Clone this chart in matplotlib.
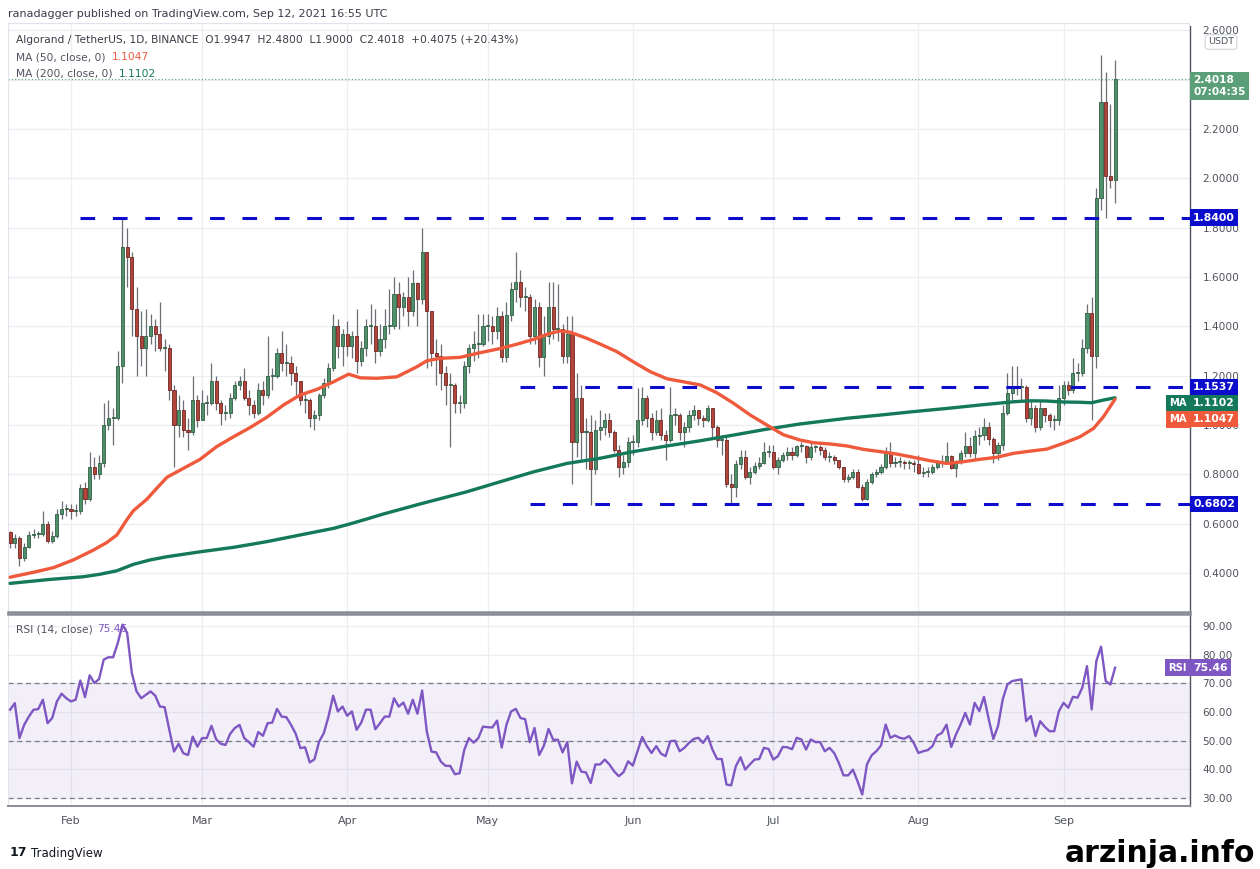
import matplotlib
matplotlib.use('Agg')
import matplotlib.pyplot as plt
import matplotlib.transforms as mtransforms
from matplotlib.patches import Rectangle
from matplotlib.ticker import FuncFormatter, FormatStrFormatter
import numpy as np
import pandas as pd

# ---------------- data (ALGO/USDT, daily) ----------------
start_date = '2021-01-19'
first_open = 0.566

close = [0.52, 0.54, 0.46, 0.505, 0.554, 0.56, 0.56, 0.60, 0.53, 0.55, 0.64, 0.66, 0.66,
         # Feb
         0.65, 0.65, 0.745, 0.70, 0.83, 0.80, 0.845, 1.00, 1.03, 1.03, 1.24, 1.72, 1.68, 1.47,
         1.36, 1.31, 1.36, 1.40, 1.37, 1.31, 1.31, 1.14, 1.00, 1.06, 0.98, 0.97, 1.10, 1.02,
         # Mar
         1.09, 1.09, 1.18, 1.09, 1.05, 1.05, 1.11, 1.16, 1.18, 1.11, 1.08, 1.05, 1.14, 1.12,
         1.20, 1.20, 1.29, 1.25, 1.25, 1.21, 1.18, 1.10, 1.10, 1.03, 1.04, 1.12, 1.17, 1.23,
         1.40, 1.32, 1.37,
         # Apr
         1.32, 1.36, 1.26, 1.31, 1.40, 1.40, 1.30, 1.35, 1.40, 1.40, 1.53, 1.48, 1.52, 1.46,
         1.575, 1.51, 1.70, 1.46, 1.29, 1.28, 1.21, 1.16, 1.16, 1.09, 1.09, 1.24, 1.31, 1.33,
         1.33, 1.40,
         # May
         1.40, 1.38, 1.44, 1.275, 1.445, 1.55, 1.58, 1.52, 1.52, 1.36, 1.48, 1.275, 1.36, 1.48,
         1.39, 1.39, 1.28, 1.37, 0.93, 1.11, 0.97, 0.97, 0.82, 0.98, 0.99, 1.02, 0.97, 0.90,
         0.83, 0.85, 0.93,
         # Jun
         0.93, 1.02, 1.11, 1.03, 0.97, 1.02, 0.96, 0.94, 1.04, 1.04, 0.97, 0.99, 1.04, 1.06,
         1.03, 1.02, 1.07, 0.99, 0.94, 0.94, 0.76, 0.75, 0.84, 0.87, 0.79, 0.81, 0.835, 0.845,
         0.89, 0.89,
         # Jul
         0.83, 0.86, 0.88, 0.89, 0.88, 0.915, 0.915, 0.87, 0.91, 0.91, 0.90, 0.87, 0.87, 0.86,
         0.83, 0.78, 0.79, 0.81, 0.75, 0.70, 0.77, 0.80, 0.81, 0.83, 0.89, 0.845, 0.85, 0.85,
         0.845, 0.845, 0.84,
         # Aug
         0.805, 0.81, 0.81, 0.83, 0.85, 0.85, 0.875, 0.825, 0.85, 0.885, 0.915, 0.885, 0.955,
         0.96, 0.99, 0.945, 0.885, 0.92, 1.05, 1.13, 1.155, 1.155, 1.155, 1.03, 1.07, 0.99,
         1.07, 1.04, 1.02, 1.02, 1.11,
         # Sep
         1.16, 1.14, 1.21, 1.21, 1.31, 1.455, 1.28, 1.92, 2.31, 2.01, 1.9947, 2.4018]

high = [0.57, 0.56, 0.55, 0.52, 0.57, 0.58, 0.57, 0.65, 0.61, 0.57, 0.66, 0.69, 0.68,
        0.68, 0.68, 0.76, 0.77, 0.89, 0.87, 0.88, 1.09, 1.10, 1.07, 1.30, 1.84, 1.80, 1.70,
        1.56, 1.46, 1.47, 1.45, 1.43, 1.50, 1.35, 1.33, 1.16, 1.12, 1.10, 1.03, 1.20, 1.12,
        1.14, 1.12, 1.25, 1.20, 1.10, 1.08, 1.13, 1.18, 1.20, 1.23, 1.14, 1.10, 1.17, 1.18,
        1.36, 1.23, 1.31, 1.38, 1.33, 1.28, 1.24, 1.18, 1.13, 1.11, 1.06, 1.13, 1.19, 1.25,
        1.45, 1.43, 1.39,
        1.42, 1.38, 1.47, 1.34, 1.43, 1.49, 1.47, 1.41, 1.47, 1.55, 1.60, 1.58, 1.54, 1.60,
        1.63, 1.58, 1.80, 1.70, 1.46, 1.35, 1.33, 1.24, 1.21, 1.17, 1.12, 1.26, 1.33, 1.38,
        1.45, 1.45,
        1.45, 1.44, 1.48, 1.46, 1.50, 1.58, 1.70, 1.63, 1.56, 1.53, 1.51, 1.50, 1.44, 1.58,
        1.58, 1.57, 1.41, 1.44, 1.44, 1.21, 1.16, 1.03, 1.04, 1.02, 1.06, 1.05, 1.05, 0.98,
        0.92, 0.88, 0.95,
        0.96, 1.15, 1.155, 1.12, 1.05, 1.06, 1.07, 0.98, 1.155, 1.07, 1.05, 1.01, 1.06, 1.08,
        1.06, 1.04, 1.08, 1.07, 1.00, 0.96, 0.95, 0.80, 0.86, 0.90, 0.90, 0.83, 0.85, 0.87,
        0.93, 0.92,
        0.92, 0.87, 0.89, 0.91, 0.91, 0.92, 0.93, 0.92, 0.93, 0.92, 0.92, 0.91, 0.89, 0.88,
        0.86, 0.83, 0.80, 0.82, 0.82, 0.76, 0.78, 0.81, 0.82, 0.84, 0.91, 0.93, 0.87, 0.87,
        0.86, 0.86, 0.86,
        0.88, 0.83, 0.83, 0.84, 0.86, 0.88, 0.93, 0.88, 0.86, 0.90, 0.97, 0.95, 0.98, 0.99,
        1.03, 1.01, 0.95, 0.93, 1.08, 1.21, 1.24, 1.24, 1.19, 1.16, 1.10, 1.08, 1.10, 1.07,
        1.05, 1.04, 1.16,
        1.18, 1.18, 1.27, 1.25, 1.35, 1.49, 1.52, 1.96, 2.50, 2.43, 2.30, 2.48]

low = [0.50, 0.50, 0.43, 0.45, 0.50, 0.54, 0.54, 0.55, 0.52, 0.52, 0.54, 0.62, 0.63,
       0.62, 0.63, 0.64, 0.68, 0.69, 0.78, 0.78, 0.83, 0.98, 0.92, 1.02, 1.17, 1.56, 1.36,
       1.20, 1.24, 1.20, 1.33, 1.30, 1.30, 1.22, 1.10, 0.83, 0.95, 0.95, 0.90, 0.96, 0.99,
       1.02, 1.04, 1.08, 1.06, 1.00, 1.02, 1.03, 1.10, 1.14, 1.10, 1.04, 1.03, 1.04, 1.08,
       1.11, 1.14, 1.19, 1.22, 1.20, 1.16, 1.12, 1.08, 1.05, 0.99, 0.98, 1.02, 1.11, 1.15,
       1.22, 1.27, 1.24,
       1.28, 1.27, 1.21, 1.24, 1.28, 1.33, 1.25, 1.28, 1.31, 1.37, 1.39, 1.39, 1.44, 1.40,
       1.44, 1.40, 1.49, 1.23, 1.24, 1.16, 1.14, 1.08, 0.91, 1.05, 1.05, 1.07, 1.21, 1.26,
       1.27, 1.32,
       1.34, 1.33, 1.35, 1.255, 1.255, 1.42, 1.50, 1.48, 1.46, 1.33, 1.33, 1.235, 1.20, 1.33,
       1.35, 1.34, 1.25, 1.25, 0.76, 0.87, 0.86, 0.82, 0.675, 0.80, 0.94, 0.96, 0.95, 0.89,
       0.79, 0.80, 0.83,
       0.88, 0.91, 1.00, 0.99, 0.94, 0.96, 0.94, 0.86, 0.93, 1.00, 0.94, 0.91, 0.97, 1.02,
       1.00, 0.99, 1.01, 0.95, 0.91, 0.88, 0.75, 0.675, 0.71, 0.82, 0.78, 0.76, 0.80, 0.82,
       0.84, 0.87,
       0.82, 0.80, 0.85, 0.86, 0.86, 0.87, 0.89, 0.845, 0.86, 0.89, 0.88, 0.86, 0.85, 0.84,
       0.82, 0.77, 0.77, 0.78, 0.745, 0.69, 0.695, 0.76, 0.79, 0.80, 0.82, 0.83, 0.83, 0.83,
       0.82, 0.82, 0.81,
       0.80, 0.79, 0.79, 0.80, 0.82, 0.83, 0.84, 0.82, 0.79, 0.84, 0.87, 0.87, 0.86, 0.92,
       0.94, 0.92, 0.845, 0.86, 0.90, 1.04, 1.10, 1.12, 1.10, 1.01, 1.00, 0.97, 0.98, 1.01,
       0.99, 0.98, 1.00,
       1.08, 1.12, 1.13, 1.18, 1.20, 1.29, 1.02, 1.23, 1.87, 1.84, 1.96, 1.90]

# moving averages (day number from start, value)
ma50_day = [0, 5.0, 9.3, 13.5, 17.8, 20.6, 22.8, 24.9, 26.3, 29.2, 31.3, 33.5, 37.0, 40.6,
            44.1, 47.7, 51.3, 54.8, 58.4, 61.9, 65.5, 69.1, 72.3, 74.8, 78.3, 82.6, 86.9,
            89.0, 91.8, 96.1, 99.7, 104.7, 108.2, 111.8, 115.3, 117.5, 119.6, 123.2, 126.0,
            129.6, 133.1, 136.7, 140.3, 143.8, 147.4, 150.9, 154.5, 158.1, 161.6, 165.2,
            168.7, 171.6, 175.1, 178.7, 182.3, 185.8, 189.4, 192.9, 196.5, 200.1, 203.6,
            207.2, 210.7, 214.3, 217.9, 221.4, 225.0, 228.5, 231.4, 233.5, 236]
ma50_val = [0.383, 0.403, 0.422, 0.453, 0.493, 0.523, 0.554, 0.615, 0.652, 0.699, 0.743,
            0.788, 0.824, 0.861, 0.912, 0.952, 0.990, 1.031, 1.081, 1.121, 1.144, 1.175,
            1.206, 1.191, 1.189, 1.195, 1.236, 1.260, 1.270, 1.274, 1.290, 1.310, 1.327,
            1.347, 1.371, 1.381, 1.376, 1.351, 1.328, 1.297, 1.256, 1.216, 1.187, 1.175,
            1.162, 1.131, 1.088, 1.040, 1.000, 0.960, 0.939, 0.928, 0.923, 0.915, 0.901,
            0.892, 0.882, 0.869, 0.855, 0.844, 0.851, 0.861, 0.869, 0.885, 0.894, 0.902,
            0.926, 0.952, 0.986, 1.033, 1.1047]
ma200_day = [0, 8.5, 15.7, 19.2, 22.8, 26.3, 29.9, 33.5, 40.6, 47.7, 54.8, 61.9, 69.1, 72.6,
             76.2, 79.7, 87.6, 97.5, 104.7, 111.8, 118.9, 126.0, 133.1, 140.3, 147.4, 154.5,
             161.6, 168.7, 178.7, 185.8, 192.9, 200.1, 207.2, 214.3, 217.9, 221.4, 225.0,
             228.5, 231.0, 233.5, 236]
ma200_val = [0.358, 0.374, 0.385, 0.395, 0.409, 0.435, 0.453, 0.466, 0.486, 0.504, 0.527,
             0.554, 0.581, 0.599, 0.619, 0.639, 0.680, 0.729, 0.770, 0.810, 0.844, 0.865,
             0.892, 0.915, 0.936, 0.959, 0.983, 1.004, 1.027, 1.040, 1.054, 1.067, 1.081,
             1.094, 1.098, 1.097, 1.093, 1.092, 1.090, 1.101, 1.1102]

rsi = [60.8, 63.1, 50.9, 55.5, 58.4, 60.8, 61.0, 64.3, 56.1, 57.9,
       63.7, 66.4, 64.8, 63.7, 64.3, 71.0, 65.2, 72.8, 70.1, 71.5,
       78.3, 79.1, 79.1, 84.1, 90.5, 87.6, 73.6, 67.2, 64.8, 66.0,
       67.2, 65.7, 61.9, 61.7, 53.8, 46.2, 48.9, 45.6, 45.0, 51.4,
       47.9, 50.9, 50.9, 55.2, 50.5, 48.9, 48.5, 52.4, 54.4, 55.5,
       50.9, 49.5, 47.9, 53.0, 51.7, 56.1, 56.3, 61.1, 58.4, 58.2,
       55.5, 52.4, 47.4, 47.7, 42.4, 43.5, 49.7, 52.6, 58.4, 65.7,
       60.2, 61.9, 58.7, 60.2, 53.8, 56.3, 60.8, 60.8, 54.0, 56.1,
       58.4, 58.4, 64.8, 61.9, 63.3, 59.4, 64.3, 59.4, 67.5, 53.2,
       46.2, 45.9, 42.7, 41.2, 41.2, 38.3, 38.6, 46.8, 50.9, 49.3,
       50.9, 54.9, 54.7, 54.6, 57.0, 47.6, 55.5, 60.2, 61.1, 57.9,
       57.5, 49.5, 54.4, 45.0, 48.2, 54.1, 50.3, 50.3, 45.9, 49.5,
       35.1, 42.7, 39.2, 38.9,
       35.2, 41.7, 41.7, 43.4, 41.7, 39.3, 37.6, 39.0, 42.8, 41.3,
       46.3, 51.3, 48.1, 45.7, 48.1, 45.5, 44.6, 49.8, 50.0, 46.3,
       47.5, 49.2, 50.6, 51.0, 49.2, 51.6, 46.9, 43.6, 43.6, 34.7,
       34.4, 41.1, 44.2, 39.9, 41.7, 43.4, 43.6, 47.5, 47.1, 43.4,
       44.6, 47.8, 47.7, 47.0, 51.0, 50.4, 46.9, 50.4, 49.5, 49.5,
       46.3, 47.5, 45.7, 42.2, 37.9, 37.9, 39.9, 35.8, 31.2, 41.7,
       44.9, 46.3, 48.3, 55.6, 51.0, 51.8, 51.0, 50.7, 51.6, 49.2,
       45.7, 46.3, 46.7, 48.1, 51.8, 52.7, 55.6, 47.8, 52.1, 55.6,
       59.7, 55.6, 63.2, 60.3, 65.3, 57.6, 50.6, 55.1, 64.4, 69.6,
       70.8, 71.1, 71.4, 56.8, 58.6, 51.6, 56.8, 54.8, 53.3, 53.3,
       60.3, 63.2, 61.5, 65.3, 65.0, 68.5, 76.0, 60.9, 77.8, 82.8,
       70.8, 69.6, 75.46]

# horizontal support / resistance levels and the day each one is drawn from
levels = [1.84, 1.1537, 0.6802]
level_from = ['2021-02-03', '2021-05-08', '2021-05-10']

ma50_last, ma200_last, rsi_last = 1.1047, 1.1102, 75.46
last_price = 2.4018

# ---------------- figure ----------------
W, H = 1260, 869
GREEN, GREEN_E = '#4f8f6a', '#2f5e43'
RED, RED_E = '#b3443c', '#6e2621'
BLUE = '#0c0ccc'
MA50_C, MA200_C = '#ef5a3c', '#14785b'
RSI_C = '#7e57c2'
TXT = '#50535e'

dates = pd.date_range(start_date, periods=len(close), freq='D')
x = np.arange(len(close))
c = np.array(close)
o = np.array([first_open] + close[:-1])  # each day opens at the previous close
h = np.maximum(np.array(high), np.maximum(o, c))
l = np.minimum(np.array(low), np.minimum(o, c))
up = c >= o
month_idx = [i for i, d in enumerate(dates) if d.day == 1]
month_lbl = [dates[i].strftime('%b') for i in month_idx]


def px_box(left, top, right, bottom):
    return [left / W, 1 - bottom / H, (right - left) / W, (bottom - top) / H]


fig = plt.figure(figsize=(12.6, 8.69), dpi=100)
ax = fig.add_axes(px_box(8, 23, 1190, 612))
axr = fig.add_axes(px_box(8, 614, 1190, 806), sharex=ax)

XMIN, XMAX = -0.45, 252.0
ax.set_xlim(XMIN, XMAX)
ax.set_ylim(0.242, 2.629)
axr.set_ylim(27.2, 94.2)

# grid
for a in (ax, axr):
    a.set_xticks(month_idx)
    a.grid(True, color='#eceef2', lw=0.9, zorder=0)
    a.set_axisbelow(True)
    for s in ('left', 'top'):
        a.spines[s].set_color('#e0e3eb')
        a.spines[s].set_linewidth(0.8)
    a.spines['right'].set_color('#50535e')
    a.spines['right'].set_linewidth(1.0)
ax.spines['bottom'].set_color('#8a8d96')
ax.spines['bottom'].set_linewidth(1.8)
axr.spines['top'].set_color('#8a8d96')
axr.spines['top'].set_linewidth(1.8)
axr.spines['bottom'].set_color('#8a8d96')
axr.spines['bottom'].set_linewidth(1.4)

# candles
ax.vlines(x, l, h, color='#6b6e75', lw=0.9, zorder=2)
ax.bar(x, np.maximum(np.abs(c - o), 0.004), bottom=np.minimum(o, c), width=0.66,
       color=np.where(up, GREEN, RED), edgecolor=np.where(up, GREEN_E, RED_E),
       linewidth=0.6, zorder=3)

# moving averages
ax.plot(ma200_day, ma200_val, color=MA200_C, lw=2.4, zorder=4, solid_joinstyle='round',
        solid_capstyle='round')
ax.plot(ma50_day, ma50_val, color=MA50_C, lw=2.4, zorder=5, solid_joinstyle='round',
        solid_capstyle='round')

# levels
for lv, d in zip(levels, level_from):
    i0 = dates.get_loc(pd.Timestamp(d))
    ax.plot([i0, XMAX], [lv, lv], color=BLUE, lw=2.2, ls=(0, (4.8, 5.8)), zorder=6,
            dash_capstyle='butt')

ax.axhline(last_price, color='#5a9e76', lw=0.8, ls=(0, (1, 2)), zorder=1)

# right price axis (the 2.4000 label sits under the last-price tag)
ax.yaxis.tick_right()
ax.set_yticks(np.arange(0.4, 2.61, 0.2))
ax.yaxis.set_major_formatter(FuncFormatter(lambda v, p: '' if abs(v - 2.4) < 1e-6 else '%.4f' % v))
ax.tick_params(axis='y', length=0, pad=9, labelsize=7.6, labelcolor=TXT)
ax.tick_params(axis='x', length=0, labelbottom=False)

# RSI panel
axr.axhspan(30, 70, color=RSI_C, alpha=0.09, lw=0, zorder=1)
for v in (30, 50, 70):
    axr.axhline(v, color='#787b86', lw=0.9, ls=(0, (4, 3)), zorder=2)
axr.plot(x, rsi, color=RSI_C, lw=1.7, zorder=3)
axr.yaxis.tick_right()
axr.set_yticks(range(30, 91, 10))
axr.yaxis.set_major_formatter(FormatStrFormatter('%.2f'))
axr.tick_params(axis='y', length=0, pad=9, labelsize=7.6, labelcolor=TXT)
axr.set_xticklabels(month_lbl)
axr.tick_params(axis='x', length=0, pad=7, labelsize=8, labelcolor=TXT)


def tag(a, yval, text, fc, dy=0, inside=None, inside_fc=None, size=7.8):
    base = mtransforms.blended_transform_factory(a.transAxes, a.transData)
    tr = base + mtransforms.ScaledTranslation(0, -dy / 100, fig.dpi_scale_trans)
    a.text(1.0 + 3 / 1182, yval, text, transform=tr, ha='left', va='center', fontsize=size,
           fontweight='bold', color='white', clip_on=False, zorder=20,
           bbox=dict(boxstyle='square,pad=0.3', fc=fc, ec='none'))
    if inside:
        a.text(1.0 - 3 / 1182, yval, inside, transform=tr, ha='right', va='center',
               fontsize=size - 0.6, fontweight='bold', color='white', clip_on=False,
               zorder=20, bbox=dict(boxstyle='square,pad=0.35', fc=inside_fc, ec='none'))


tag(ax, levels[0], '%.4f' % levels[0], BLUE)
tag(ax, levels[1], '%.4f' % levels[1], BLUE)
tag(ax, levels[1], '%.4f' % ma200_last, MA200_C, dy=16, inside='MA', inside_fc=MA200_C)
tag(ax, levels[1], '%.4f' % ma50_last, MA50_C, dy=32, inside='MA', inside_fc=MA50_C)
tag(ax, levels[2], '%.4f' % levels[2], BLUE)
tag(axr, rsi_last, '%.2f' % rsi_last, RSI_C, inside='RSI', inside_fc=RSI_C)

# last price with countdown
tr = mtransforms.blended_transform_factory(ax.transAxes, ax.transData) + \
    mtransforms.ScaledTranslation(0, -7 / 100, fig.dpi_scale_trans)
ax.text(1.0 + 3 / 1182, last_price, '%.4f\n07:04:35' % last_price, transform=tr, ha='left',
        va='center', fontsize=7.6, fontweight='bold', color='white', linespacing=1.25,
        clip_on=False, zorder=20, bbox=dict(boxstyle='square,pad=0.3', fc='#5b9f78', ec='none'))

# header strip over the clipped top label
fig.add_artist(Rectangle((1190 / W, 1 - 26 / H), 70 / W, 26 / H, transform=fig.transFigure,
                         fc='white', ec='none', zorder=5))
fig.text(1221 / W, 1 - 42 / H, 'USDT', fontsize=6.8, color=TXT, ha='center', va='center',
         zorder=6, bbox=dict(boxstyle='round,pad=0.3', fc='white', ec='#d1d4dc', lw=0.8))

# texts
fig.text(8 / W, 1 - 14 / H, 'ranadagger published on TradingView.com, Sep 12, 2021 16:55 UTC',
         fontsize=8, color='#3a3d47', va='center')
fig.text(16 / W, 1 - 40 / H,
         'Algorand / TetherUS, 1D, BINANCE  O1.9947  H2.4800  L1.9000  C2.4018  +0.4075 (+20.43%)',
         fontsize=7.7, color='#3a3d47', va='center')
fig.text(16 / W, 1 - 57 / H, 'MA (50, close, 0)', fontsize=7.7, color=TXT, va='center')
fig.text(112 / W, 1 - 57 / H, '%.4f' % ma50_last, fontsize=7.7, color=MA50_C, va='center')
fig.text(16 / W, 1 - 74 / H, 'MA (200, close, 0)', fontsize=7.7, color=TXT, va='center')
fig.text(119 / W, 1 - 74 / H, '%.4f' % ma200_last, fontsize=7.7, color=MA200_C, va='center')
fig.text(16 / W, 1 - 629 / H, 'RSI (14, close)', fontsize=7.7, color=TXT, va='center')
fig.text(97 / W, 1 - 629 / H, '%.2f' % rsi_last, fontsize=7.7, color=RSI_C, va='center')

fig.text(10 / W, 1 - 853 / H, '17', fontsize=9, fontweight='bold', color='#131722', va='center')
fig.text(31 / W, 1 - 853 / H, 'TradingView', fontsize=8.5, color='#131722', va='center')
fig.text(1255 / W, 1 - 853 / H, 'arzinja.info', fontsize=21.5, fontweight='bold',
         color='black', ha='right', va='center')

fig.savefig('out.png', dpi=100, facecolor='white')
